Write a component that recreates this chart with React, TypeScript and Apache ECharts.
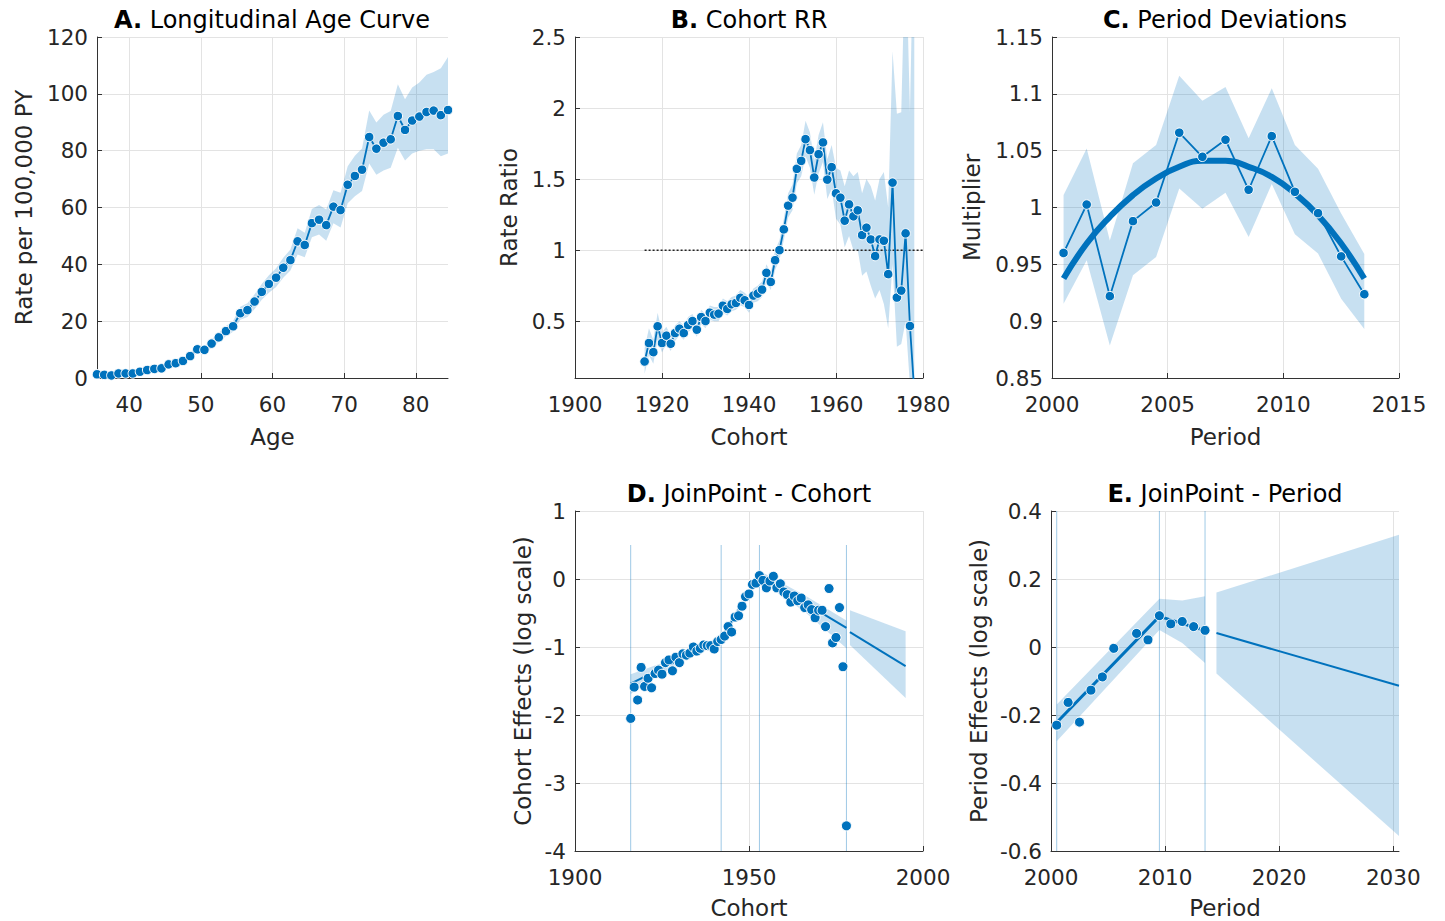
import { useEffect, useRef } from 'react';
import * as echarts from 'echarts';

const FONT = 'DejaVu Sans';
const BLUE = '#0072BD';
const BAND = 'rgba(0,114,189,0.22)';
const VLINE = 'rgba(0,114,189,0.38)';
const GRIDC = '#e3e3e3';
const AXC = '#333333';
const TXT = '#262626';

// ---------- Panel A: Longitudinal Age Curve ----------
const ageX = [35.5, 36.5, 37.5, 38.5, 39.5, 40.5, 41.5, 42.5, 43.5, 44.5, 45.5, 46.5, 47.5, 48.5, 49.5, 50.5, 51.5, 52.5, 53.5, 54.5, 55.5, 56.5, 57.5, 58.5, 59.5, 60.5, 61.5, 62.5, 63.5, 64.5, 65.5, 66.5, 67.5, 68.5, 69.5, 70.5, 71.5, 72.5, 73.5, 74.5, 75.5, 76.5, 77.5, 78.5, 79.5, 80.5, 81.5, 82.5, 83.5, 84.5];
const ageRate = [1.3, 1.1, 0.9, 1.6, 1.6, 1.6, 2.2, 2.8, 3.2, 3.4, 4.8, 5.2, 6.0, 7.7, 10.1, 9.9, 12.1, 14.3, 16.5, 18.2, 22.8, 23.9, 26.9, 30.3, 33.1, 35.3, 38.8, 41.5, 48.1, 46.8, 54.5, 55.7, 53.8, 60.3, 59.1, 68.0, 71.1, 73.3, 84.8, 80.7, 82.8, 84.0, 92.2, 87.3, 90.6, 92.0, 93.6, 94.1, 92.5, 94.3];
const ageLower = [1.0, 0.8, 0.6, 1.2, 1.2, 1.2, 1.7, 2.2, 2.6, 2.7, 4.0, 4.3, 5.0, 6.6, 8.8, 8.6, 10.6, 12.7, 14.7, 16.3, 20.5, 21.5, 24.3, 27.5, 30.0, 32.0, 35.3, 37.8, 43.5, 42.5, 49.5, 50.5, 48.3, 54.5, 53.0, 61.5, 64.0, 65.8, 75.5, 71.5, 73.0, 74.0, 81.0, 76.5, 79.0, 80.0, 80.5, 80.5, 78.0, 79.0];
const ageUpper = [1.6, 1.4, 1.2, 2.0, 2.0, 2.0, 2.7, 3.4, 3.8, 4.1, 5.6, 6.1, 7.0, 8.8, 11.4, 11.2, 13.6, 15.9, 18.3, 20.1, 25.1, 26.3, 29.5, 33.1, 36.2, 38.6, 42.3, 45.2, 52.7, 51.1, 59.5, 60.9, 59.3, 66.1, 65.2, 74.5, 78.2, 80.8, 94.1, 89.9, 92.6, 94.0, 103.4, 98.1, 102.2, 104.0, 106.7, 107.7, 109.0, 113.0];
const ageTicks = [40, 50, 60, 70, 80];

// ---------- Panel B: Cohort RR ----------
const cohortX = [1916, 1917, 1918, 1919, 1920, 1921, 1922, 1923, 1924, 1925, 1926, 1927, 1928, 1929, 1930, 1931, 1932, 1933, 1934, 1935, 1936, 1937, 1938, 1939, 1940, 1941, 1942, 1943, 1944, 1945, 1946, 1947, 1948, 1949, 1950, 1951, 1952, 1953, 1954, 1955, 1956, 1957, 1958, 1959, 1960, 1961, 1962, 1963, 1964, 1965, 1966, 1967, 1968, 1969, 1970, 1971, 1972, 1973, 1974, 1975, 1976, 1977, 1978];
const cohortRR = [0.216, 0.346, 0.282, 0.464, 0.346, 0.398, 0.341, 0.416, 0.447, 0.416, 0.473, 0.501, 0.44, 0.529, 0.501, 0.56, 0.546, 0.553, 0.609, 0.586, 0.619, 0.628, 0.664, 0.647, 0.614, 0.68, 0.694, 0.722, 0.84, 0.776, 0.929, 1.0, 1.146, 1.313, 1.369, 1.572, 1.628, 1.781, 1.704, 1.511, 1.675, 1.758, 1.496, 1.584, 1.4, 1.369, 1.207, 1.322, 1.238, 1.28, 1.106, 1.158, 1.075, 0.958, 1.075, 1.066, 0.831, 1.475, 0.666, 0.715, 1.118, 0.466, 0.0];
const cohortLower = [0.13, 0.26, 0.20, 0.37, 0.28, 0.34, 0.29, 0.36, 0.40, 0.37, 0.42, 0.45, 0.39, 0.48, 0.45, 0.51, 0.50, 0.50, 0.56, 0.54, 0.57, 0.58, 0.61, 0.60, 0.56, 0.63, 0.64, 0.67, 0.78, 0.72, 0.86, 0.93, 1.07, 1.23, 1.28, 1.47, 1.52, 1.66, 1.58, 1.39, 1.54, 1.62, 1.36, 1.43, 1.22, 1.18, 1.02, 1.10, 1.00, 1.00, 0.82, 0.85, 0.75, 0.66, 0.72, 0.62, 0.45, 0.90, 0.32, 0.34, 0.50, 0.05, -0.5];
const cohortUpper = [0.31, 0.45, 0.37, 0.56, 0.42, 0.46, 0.40, 0.47, 0.50, 0.47, 0.53, 0.55, 0.49, 0.58, 0.55, 0.61, 0.60, 0.60, 0.66, 0.64, 0.67, 0.68, 0.72, 0.70, 0.67, 0.73, 0.75, 0.78, 0.90, 0.84, 1.00, 1.07, 1.22, 1.40, 1.46, 1.68, 1.74, 1.91, 1.83, 1.63, 1.81, 1.90, 1.64, 1.74, 1.58, 1.56, 1.45, 1.56, 1.52, 1.55, 1.40, 1.50, 1.45, 1.35, 1.50, 1.55, 1.30, 2.40, 1.96, 1.97, 3.2, 1.97, 3.5];
const rrRefLine = [[1916, 1], [1980, 1]];
const rrTicks = [0.5, 1, 1.5, 2, 2.5];

// ---------- Panel C: Period Deviations ----------
const periodX = [2000.5, 2001.5, 2002.5, 2003.5, 2004.5, 2005.5, 2006.5, 2007.5, 2008.5, 2009.5, 2010.5, 2011.5, 2012.5, 2013.5];
const periodDev = [0.960, 1.0026, 0.922, 0.988, 1.0044, 1.0658, 1.0446, 1.0596, 1.0156, 1.0628, 1.0138, 0.995, 0.957, 0.9237];
const periodLower = [0.9154, 0.9536, 0.8787, 0.9404, 0.9565, 1.0167, 0.999, 1.013, 0.974, 1.0206, 0.9765, 0.9595, 0.9198, 0.893];
const periodUpper = [1.011, 1.052, 0.971, 1.039, 1.055, 1.116, 1.094, 1.106, 1.061, 1.105, 1.055, 1.034, 0.9947, 0.959];
const periodSmooth = [0.9375, 0.9683, 0.9918, 1.0109, 1.0255, 1.0358, 1.0411, 1.0411, 1.0358, 1.027, 1.0123, 0.9932, 0.9683, 0.9375];

// ---------- Panel D: JoinPoint - Cohort ----------
const jpCohortEffect = [-2.05, -1.59, -1.78, -1.30, -1.58, -1.46, -1.60, -1.39, -1.34, -1.40, -1.23, -1.19, -1.35, -1.15, -1.23, -1.10, -1.12, -1.09, -1.00, -1.06, -1.02, -0.97, -0.98, -0.98, -1.03, -0.92, -0.89, -0.84, -0.70, -0.78, -0.56, -0.54, -0.40, -0.26, -0.22, -0.08, -0.06, 0.05, -0.02, -0.13, -0.03, 0.04, -0.13, -0.07, -0.19, -0.23, -0.34, -0.25, -0.32, -0.28, -0.42, -0.38, -0.45, -0.57, -0.46, -0.46, -0.70, -0.14, -0.94, -0.86, -0.42, -1.29, -3.63];
const jpCohortJoins = [1916, 1942, 1953, 1978];
const jpCohortFit = [-1.54, -0.88, 0.05, -0.72];
const jpCohortBandX = [1916, 1929, 1942, 1953, 1966, 1978];
const jpCohortBandLo = [-1.69, -1.26, -0.93, -0.02, -0.48, -1.02];
const jpCohortBandHi = [-1.40, -1.16, -0.83, 0.12, -0.24, -0.61];
const jpCohortProjX = [1979, 1995];
const jpCohortProj = [-0.78, -1.28];
const jpCohortProjLo = [-0.97, -1.75];
const jpCohortProjHi = [-0.46, -0.77];
const jpCohortVTop = 0.5;
const jpCohortVBottom = -4;

// ---------- Panel E: JoinPoint - Period ----------
const jpPeriodX = [2000.5, 2001.5, 2002.5, 2003.5, 2004.5, 2005.5, 2007.5, 2008.5, 2009.5, 2010.5, 2011.5, 2012.5, 2013.5];
const jpPeriodEffect = [-0.230, -0.163, -0.221, -0.127, -0.088, -0.004, 0.040, 0.021, 0.092, 0.068, 0.075, 0.060, 0.049];
const jpPeriodJoins = [2000.5, 2009.5, 2013.5];
const jpPeriodFit = [-0.222, 0.09, 0.048];
const jpPeriodBandX = [2000.5, 2009.5, 2011.5, 2013.5];
const jpPeriodBandLo = [-0.277, 0.05, 0.012, -0.047];
const jpPeriodBandHi = [-0.169, 0.142, 0.137, 0.149];
const jpPeriodProjX = [2014.5, 2030.5];
const jpPeriodProj = [0.041, -0.114];
const jpPeriodProjLo = [-0.078, -0.556];
const jpPeriodProjHi = [0.16, 0.33];
const jpPeriodVTop = 0.4;
const jpPeriodVBottom = -0.6;
const periodTicksE = [2000, 2010, 2020, 2030];

const zip = (xs: number[], ys: number[]) => xs.map((x, i) => [x, ys[i]]);
const plain = (v: number) => String(v);

function band(idx: number, xs: number[], lo: number[], hi: number[]) {
  return {
    type: 'custom',
    xAxisIndex: idx,
    yAxisIndex: idx,
    silent: true,
    z: 1,
    data: xs.map((x, i) => [x, lo[i], hi[i]]),
    encode: { x: 0, y: [1, 2] },
    renderItem: (params: any, api: any) => {
      if (params.dataIndex !== 0) return null;
      const pts: number[][] = [];
      for (let i = 0; i < xs.length; i++) pts.push(api.coord([xs[i], hi[i]]));
      for (let i = xs.length - 1; i >= 0; i--) pts.push(api.coord([xs[i], lo[i]]));
      const cs = params.coordSys;
      return {
        type: 'polygon',
        shape: { points: pts },
        style: { fill: BAND },
        clipPath: { type: 'rect', shape: { x: cs.x, y: cs.y, width: cs.width, height: cs.height } },
      };
    },
  };
}

function dotLine(idx: number, xs: number[], ys: number[], extra: any = {}) {
  return {
    type: 'line',
    xAxisIndex: idx,
    yAxisIndex: idx,
    data: zip(xs, ys),
    symbol: 'circle',
    symbolSize: 9.5,
    showSymbol: true,
    clip: true,
    z: 4,
    lineStyle: { color: BLUE, width: 1.8 },
    itemStyle: { color: BLUE, borderColor: '#ffffff', borderWidth: 1 },
    ...extra,
  };
}

function plainLine(idx: number, xs: number[], ys: number[], width: number, z = 3, extra: any = {}) {
  return {
    type: 'line',
    xAxisIndex: idx,
    yAxisIndex: idx,
    data: zip(xs, ys),
    symbol: 'none',
    clip: true,
    z,
    lineStyle: { color: BLUE, width },
    ...extra,
  };
}

function vLines(idx: number, xs: number[], top: number, bottom: number) {
  return xs.map((x) => ({
    type: 'line',
    xAxisIndex: idx,
    yAxisIndex: idx,
    data: [[x, top], [x, bottom]],
    symbol: 'none',
    z: 2,
    lineStyle: { color: VLINE, width: 1 },
  }));
}

const labelStyle = { color: TXT, fontFamily: FONT, fontSize: 21.5 };
const nameStyle = { color: TXT, fontFamily: FONT, fontSize: 23 };

function xAx(gridIndex: number, min: number, max: number, name: string, nameGap: number, extra: any = {}) {
  return {
    type: 'value',
    gridIndex,
    min,
    max,
    name,
    nameLocation: 'middle',
    nameGap,
    nameTextStyle: nameStyle,
    axisLine: { show: true, onZero: false, lineStyle: { color: AXC, width: 1 } },
    axisTick: { show: true, inside: true, length: 5, lineStyle: { color: AXC }, ...(extra.tick || {}) },
    axisLabel: { ...labelStyle, margin: 15, formatter: plain, ...(extra.label || {}) },
    splitLine: { show: true, lineStyle: { color: GRIDC, width: 1 } },
    ...(extra.axis || {}),
  };
}

function yAx(gridIndex: number, min: number, max: number, name: string, nameGap: number, extra: any = {}) {
  return {
    type: 'value',
    gridIndex,
    min,
    max,
    name,
    nameLocation: 'middle',
    nameGap,
    nameTextStyle: nameStyle,
    axisLine: { show: true, onZero: false, lineStyle: { color: AXC, width: 1 } },
    axisTick: { show: true, inside: true, length: 5, lineStyle: { color: AXC }, ...(extra.tick || {}) },
    axisLabel: { ...labelStyle, margin: 9, ...(extra.label || {}) },
    splitLine: { show: true, lineStyle: { color: GRIDC, width: 1 } },
    ...(extra.axis || {}),
  };
}

function title(letter: string, text: string, left: number, top: number) {
  return {
    text: `{b|${letter}} ${text}`,
    left,
    top,
    padding: 0,
    textAlign: 'center',
    textStyle: {
      fontFamily: FONT,
      fontSize: 24,
      fontWeight: 'normal',
      color: '#000000',
      rich: { b: { fontFamily: FONT, fontSize: 24, fontWeight: 'bold', color: '#000000' } },
    },
  };
}

function buildOption(): any {
  return {
    animation: false,
    backgroundColor: '#ffffff',
    textStyle: { fontFamily: FONT },
    title: [
      title('A.', 'Longitudinal Age Curve', 272, 8),
      title('B.', 'Cohort RR', 749, 8),
      title('C.', 'Period Deviations', 1225, 8),
      title('D.', 'JoinPoint - Cohort', 749, 482),
      title('E.', 'JoinPoint - Period', 1225, 482),
    ],
    grid: [
      { left: 97, top: 37, width: 351, height: 341, outerBoundsMode: 'none' },
      { left: 575, top: 37, width: 348, height: 341, outerBoundsMode: 'none' },
      { left: 1052, top: 37, width: 347, height: 341, outerBoundsMode: 'none' },
      { left: 575, top: 511, width: 348, height: 340, outerBoundsMode: 'none' },
      { left: 1051, top: 511, width: 348, height: 340, outerBoundsMode: 'none' },
    ],
    xAxis: [
      xAx(0, 35.5, 84.5, 'Age', 47, { tick: { customValues: ageTicks }, label: { customValues: ageTicks } }),
      xAx(1, 1900, 1980, 'Cohort', 47, { axis: { interval: 20 } }),
      xAx(2, 2000, 2015, 'Period', 47, { axis: { interval: 5 } }),
      xAx(3, 1900, 2000, 'Cohort', 45, { axis: { interval: 50 } }),
      xAx(4, 2000, 2030.5, 'Period', 45, { tick: { customValues: periodTicksE }, label: { customValues: periodTicksE } }),
    ],
    yAxis: [
      yAx(0, 0, 120, 'Rate per 100,000 PY', 62, { axis: { interval: 20 } }),
      yAx(1, 0.1, 2.5, 'Rate Ratio', 55, { tick: { customValues: rrTicks }, label: { customValues: rrTicks } }),
      yAx(2, 0.85, 1.15, 'Multiplier', 69, { axis: { interval: 0.05 } }),
      yAx(3, -4, 1, 'Cohort Effects (log scale)', 41, { axis: { interval: 1 } }),
      yAx(4, -0.6, 0.4, 'Period Effects (log scale)', 61, { axis: { interval: 0.2 } }),
    ],
    series: [
      // A
      band(0, ageX, ageLower, ageUpper),
      dotLine(0, ageX, ageRate),
      // B
      band(1, cohortX, cohortLower, cohortUpper),
      {
        type: 'line',
        xAxisIndex: 1,
        yAxisIndex: 1,
        data: rrRefLine,
        symbol: 'none',
        z: 3,
        lineStyle: { color: '#222222', width: 1.5, type: [2, 2] },
      },
      dotLine(1, cohortX, cohortRR),
      // C
      band(2, periodX, periodLower, periodUpper),
      plainLine(2, periodX, periodSmooth, 6, 3, { smooth: 0.5 }),
      dotLine(2, periodX, periodDev),
      // D
      band(3, jpCohortBandX, jpCohortBandLo, jpCohortBandHi),
      band(3, jpCohortProjX, jpCohortProjLo, jpCohortProjHi),
      ...vLines(3, jpCohortJoins, jpCohortVTop, jpCohortVBottom),
      plainLine(3, jpCohortJoins, jpCohortFit, 2),
      plainLine(3, jpCohortProjX, jpCohortProj, 2),
      {
        type: 'scatter',
        xAxisIndex: 3,
        yAxisIndex: 3,
        data: zip(cohortX, jpCohortEffect),
        symbol: 'circle',
        symbolSize: 10,
        z: 4,
        itemStyle: { color: BLUE, borderColor: '#ffffff', borderWidth: 1, opacity: 1 },
      },
      // E
      band(4, jpPeriodBandX, jpPeriodBandLo, jpPeriodBandHi),
      band(4, jpPeriodProjX, jpPeriodProjLo, jpPeriodProjHi),
      ...vLines(4, jpPeriodJoins, jpPeriodVTop, jpPeriodVBottom),
      plainLine(4, jpPeriodJoins, jpPeriodFit, 3),
      plainLine(4, jpPeriodProjX, jpPeriodProj, 2),
      {
        type: 'scatter',
        xAxisIndex: 4,
        yAxisIndex: 4,
        data: zip(jpPeriodX, jpPeriodEffect),
        symbol: 'circle',
        symbolSize: 10,
        z: 4,
        itemStyle: { color: BLUE, borderColor: '#ffffff', borderWidth: 1, opacity: 1 },
      },
    ],
  };
}

export default function App() {
  const ref = useRef<HTMLDivElement>(null);
  useEffect(() => {
    if (!ref.current) return;
    const chart = echarts.init(ref.current, undefined, { renderer: 'svg' });
    chart.setOption(buildOption());
    return () => chart.dispose();
  }, []);
  return (
    <div
      ref={ref}
      style={{ position: 'fixed', left: 0, top: 0, width: 1445, height: 921, background: '#ffffff' }}
    />
  );
}
